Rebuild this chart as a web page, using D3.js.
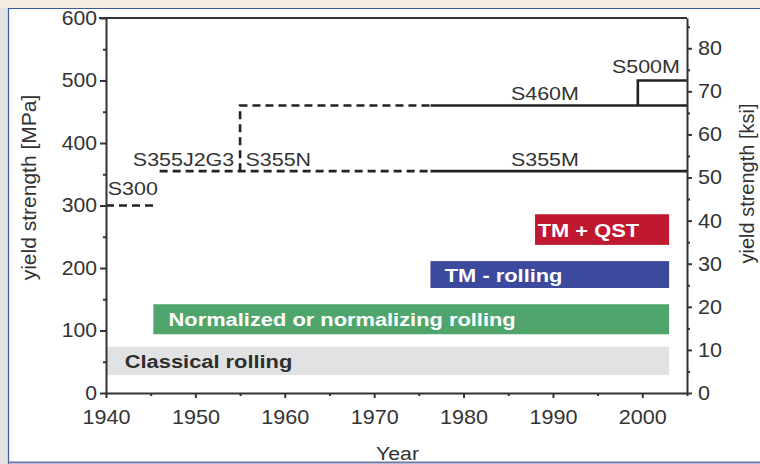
<!DOCTYPE html>
<html><head><meta charset="utf-8">
<script src="https://cdn.jsdelivr.net/npm/d3@7/dist/d3.min.js"></script>
<style>
html,body{margin:0;padding:0;background:#fff;}
svg{display:block;font-family:"Liberation Sans",Arial,sans-serif;}
</style></head>
<body><svg id="c" width="760" height="464"></svg>
<script>
// ---- data ----
const yearDomain = [1940, 2005];
const mpaDomain = [0, 600];
const MPA_PER_KSI = 6.895;
const yearTicks = [1940, 1950, 1960, 1970, 1980, 1990, 2000];
const yearMinor = [1945, 1955, 1965, 1975, 1985, 1995, 2005];
const mpaTicks = [0, 100, 200, 300, 400, 500, 600];
const mpaMinor = [50, 150, 250, 350, 450, 550];
const ksiTicks = [0, 10, 20, 30, 40, 50, 60, 70, 80];
const ksiMinor = [5, 15, 25, 35, 45, 55, 65, 75, 85];

// process bars
const processNames = ["Classical rolling", "Normalized or normalizing rolling", "TM - rolling", "TM + QST"];
const processStart = [1940, 1945.3, 1976.3, 1988];
const processEnd   = [2003, 2003, 2003, 2003];
const processLow   = [29, 94, 168, 237];
const processHigh  = [74, 142, 211, 286];
const processLabelYear = [1942.1, 1947.0, 1977.9, 1988.3];

// grade lines (year, MPa)
const dashedSegments = [
  [[1940, 300], [1945.5, 300]],
  [[1946, 355], [1976.3, 355]],
  [[1955, 355], [1955, 460], [1976.3, 460]]
];
const solidSegments = [
  [[1976.3, 355], [2005, 355]],
  [[1976.3, 460], [2005, 460]],
  [[1999.5, 460], [1999.5, 500], [2005, 500]]
];
const gradeNames = ["S300", "S355J2G3", "S355N", "S460M", "S355M", "S500M"];
const gradeYear  = [1940.2, 1943.0, 1955.6, 1985.3, 1985.3, 1996.6];
const gradeMPa   = [317, 364, 364, 469, 363, 512];

// ---- drawing ----
const svg = d3.select("#c");
const W = 760, H = 464;
const L = 106, R = 687, T = 18, B = 393;

// page frame
svg.append("rect").attr("x",0).attr("y",0).attr("width",W).attr("height",8).attr("fill","#f4eee2");
svg.append("rect").attr("x",0).attr("y",8).attr("width",8).attr("height",H-8).attr("fill","#e3e3e3");
svg.append("line").attr("x1",8).attr("x2",W).attr("y1",8.5).attr("y2",8.5).attr("stroke","#3b5ba0").attr("stroke-width",1.2);
svg.append("line").attr("x1",8.5).attr("x2",8.5).attr("y1",8).attr("y2",H).attr("stroke","#3b5ba0").attr("stroke-width",1.2);
svg.append("line").attr("x1",8).attr("x2",W).attr("y1",462.5).attr("y2",462.5).attr("stroke","#6c78a6").attr("stroke-width",2);

const x = d3.scaleLinear(yearDomain, [L, R]);
const y = d3.scaleLinear(mpaDomain, [B, T]);
const yk = d3.scaleLinear([0, mpaDomain[1] / MPA_PER_KSI], [B, T]);

function stext(g, str, px, py, o) {
  return g.append("text")
    .attr("transform", `translate(${px},${py}) scale(${o.sx||1},1)`)
    .attr("font-size", o.size).attr("font-weight", o.weight||"normal")
    .attr("fill", o.fill||"#2b2b2b").attr("text-anchor", o.anchor||"start")
    .text(str);
}

// bars
const barColors = ["#e1e2e3", "#4fa56b", "#3c4a9e", "#c0182f"];
const barText = ["#2e2e2e", "#ffffff", "#ffffff", "#ffffff"];
const gb = svg.append("g");
processNames.forEach((n, i) => {
  gb.append("rect")
    .attr("x", x(processStart[i])).attr("width", x(processEnd[i]) - x(processStart[i]))
    .attr("y", y(processHigh[i])).attr("height", y(processLow[i]) - y(processHigh[i]))
    .attr("fill", barColors[i]);
  const cy = (y(processHigh[i]) + y(processLow[i])) / 2;
  stext(gb, n, x(processLabelYear[i]), cy + 7, {size: 19, weight: "bold", fill: barText[i], sx: 1.15});
});

// grade lines
const line = d3.line().x(d => x(d[0])).y(d => y(d[1]));
const gl = svg.append("g").attr("fill", "none").attr("stroke", "#222").attr("stroke-width", 2.6);
gl.selectAll(".d").data(dashedSegments).join("path").attr("d", line).attr("stroke-dasharray", "8,5");
gl.selectAll(".s").data(solidSegments).join("path").attr("d", line);

gradeNames.forEach((n, i) => {
  stext(svg, n, x(gradeYear[i]), y(gradeMPa[i]), {size: 19, sx: 1.13, fill: "#333"});
});

// axes
const axCol = "#333";
function styleAxis(g, sx) {
  g.select(".domain").attr("stroke", axCol).attr("stroke-width", 2);
  g.selectAll(".tick line").attr("stroke", axCol).attr("stroke-width", 2);
  g.selectAll(".tick text").attr("fill", "#333").attr("font-size", 20)
    .attr("font-family", "Liberation Sans, Arial, sans-serif")
    .each(function() {
      const t = d3.select(this);
      const xx = +t.attr("x") || 0;
      t.attr("x", xx / sx).attr("transform", `scale(${sx},1)`);
    });
}
const gxMinor = svg.append("g").attr("transform", `translate(0,${B})`)
  .call(d3.axisBottom(x).tickValues(yearMinor).tickSize(3).tickFormat(""));
const gx = svg.append("g").attr("transform", `translate(0,${B})`)
  .call(d3.axisBottom(x).tickValues(yearTicks).tickSize(5).tickSizeOuter(0).tickPadding(12).tickFormat(d3.format("d")));
styleAxis(gxMinor, 1); styleAxis(gx, 1.08);
gxMinor.select(".domain").remove();

const gyMinor = svg.append("g").attr("transform", `translate(${L},0)`)
  .call(d3.axisLeft(y).tickValues(mpaMinor).tickSize(3).tickFormat(""));
const gy = svg.append("g").attr("transform", `translate(${L},0)`)
  .call(d3.axisLeft(y).tickValues(mpaTicks).tickSize(6).tickSizeOuter(0).tickPadding(3));
styleAxis(gyMinor, 1); styleAxis(gy, 1.06);
gyMinor.select(".domain").remove();

const gkMinor = svg.append("g").attr("transform", `translate(${R},0)`)
  .call(d3.axisRight(yk).tickValues(ksiMinor).tickSize(3).tickFormat(""));
const gk = svg.append("g").attr("transform", `translate(${R},0)`)
  .call(d3.axisRight(yk).tickValues(ksiTicks).tickSize(5).tickSizeOuter(0).tickPadding(6));
styleAxis(gkMinor, 1); styleAxis(gk, 1.08);
gkMinor.select(".domain").remove();

// top frame
svg.append("line").attr("x1", L - 7).attr("x2", R).attr("y1", T).attr("y2", T)
  .attr("stroke", axCol).attr("stroke-width", 2);

// axis titles
svg.append("text").attr("transform", `translate(36,${(T + B) / 2 - 18}) rotate(-90)`)
  .attr("text-anchor", "middle").attr("font-size", 21).attr("fill", "#333").text("yield strength [MPa]");
svg.append("text").attr("transform", `translate(754,${(T + B) / 2 - 22}) rotate(-90)`)
  .attr("text-anchor", "middle").attr("font-size", 20).attr("fill", "#333").text("yield strength [ksi]");
stext(svg, "Year", (L + R) / 2 + 1, 460, {size: 19, sx: 1.12, anchor: "middle", fill: "#333"});
</script></body></html>
